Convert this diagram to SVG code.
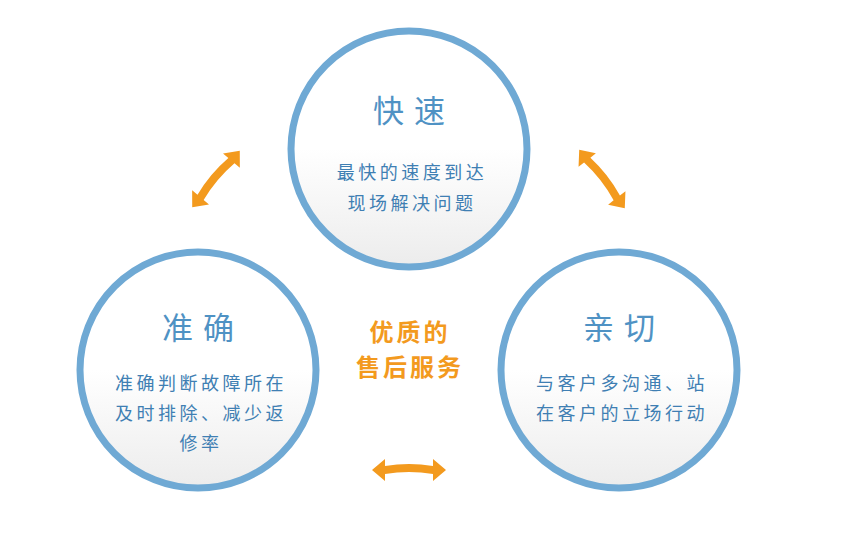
<svg xmlns="http://www.w3.org/2000/svg" width="841" height="542" viewBox="0 0 841 542">
<style>
.c{fill:url(#g);stroke:#6fa9d4;stroke-width:7}
.t{font-family:"Noto Sans CJK SC",sans-serif;fill:#4f92c4;text-anchor:middle}
.h{font-size:31px;letter-spacing:10px}
.s{font-size:18px;letter-spacing:3.5px;fill:#3f7fb3}
.o{font-family:"Noto Sans CJK SC",sans-serif;fill:#f39a1e;font-size:24px;letter-spacing:3px;font-weight:bold;text-anchor:middle}
.a{fill:#f39a1e}
</style>
<defs>
<linearGradient id="g" x1="0" y1="0" x2="0" y2="1"><stop offset="0.5" stop-color="#fff"/><stop offset="1" stop-color="#ececec"/></linearGradient>
<path id="arr" d="M-37,0 L-24,-11 L-24,-4 Q0,-8 24,-4 L24,-11 L37,0 L24,11 L24,4 Q0,0 -24,4 L-24,11 Z"/>
</defs>
<rect width="841" height="542" fill="#fff"/>
<g id="node-top"><circle class="c" cx="409" cy="149" r="118"/>
<text class="t h" x="414" y="122">快速</text>
<text class="t s" x="412" y="179">最快的速度到达</text>
<text class="t s" x="412" y="210">现场解决问题</text></g>
<g id="node-left"><circle class="c" cx="198" cy="370" r="118"/>
<text class="t h" x="203" y="339">准确</text>
<text class="t s" x="201" y="390">准确判断故障所在</text>
<text class="t s" x="201" y="420">及时排除、减少返</text>
<text class="t s" x="201" y="450">修率</text></g>
<g id="node-right"><circle class="c" cx="619" cy="370" r="118"/>
<text class="t h" x="624" y="339">亲切</text>
<text class="t s" x="622" y="390">与客户多沟通、站</text>
<text class="t s" x="622" y="420">在客户的立场行动</text></g>
<g id="node-center"><text class="o" x="410" y="341">优质的</text>
<text class="o" x="410" y="376">售后服务</text></g>
<g id="connectors">
<use href="#arr" class="a" transform="translate(216,179) rotate(-50)"/>
<use href="#arr" class="a" transform="translate(602,179) rotate(52)"/>
<use href="#arr" class="a" transform="translate(409,470)"/>
</g>
</svg>
